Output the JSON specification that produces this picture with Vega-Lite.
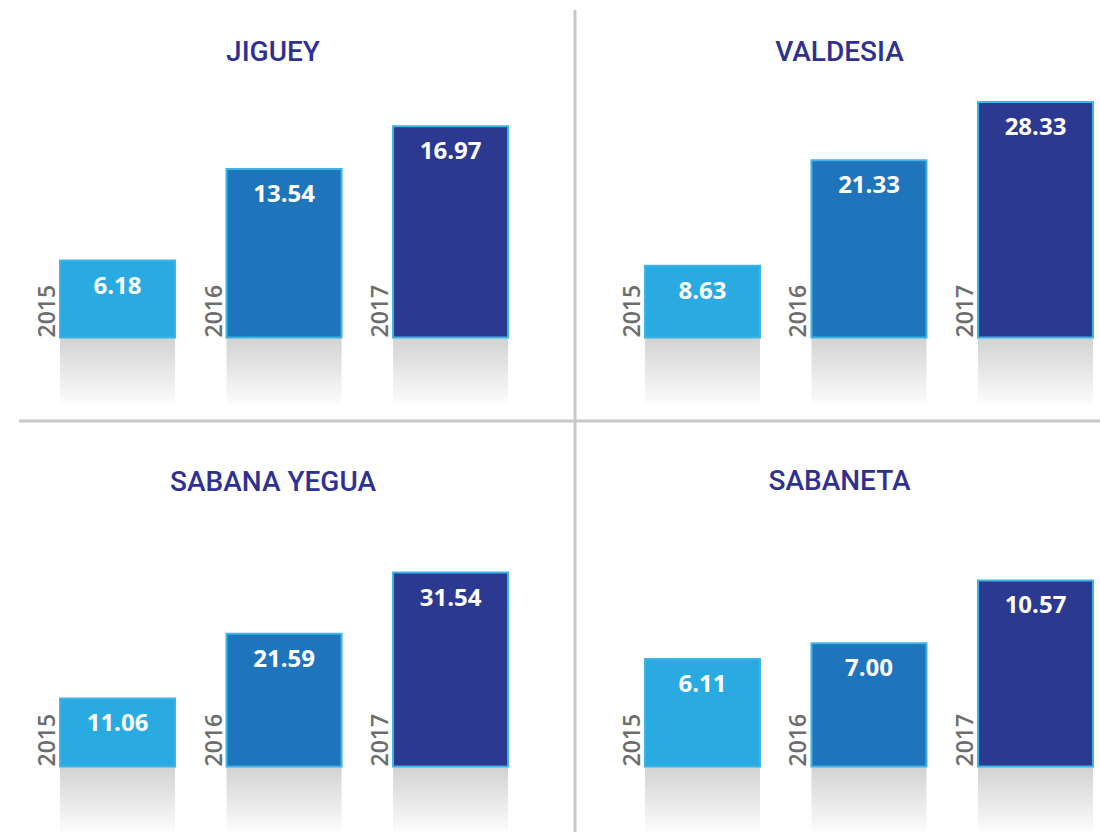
{
  "$schema": "https://vega.github.io/schema/vega-lite/v6.json",
  "background": "white",
  "padding": {"left": 17, "top": 0, "right": 0, "bottom": 0},
  "autosize": {"type": "pad"},
  "bounds": "flush",
  "spacing": 0,
  "columns": 2,
  "datasets": {
    "rows": [
      {"region": "JIGUEY", "year": "2015", "value": 6.18},
      {"region": "JIGUEY", "year": "2016", "value": 13.54},
      {"region": "JIGUEY", "year": "2017", "value": 16.97},
      {"region": "VALDESIA", "year": "2015", "value": 8.63},
      {"region": "VALDESIA", "year": "2016", "value": 21.33},
      {"region": "VALDESIA", "year": "2017", "value": 28.33},
      {"region": "SABANA YEGUA", "year": "2015", "value": 11.06},
      {"region": "SABANA YEGUA", "year": "2016", "value": 21.59},
      {"region": "SABANA YEGUA", "year": "2017", "value": 31.54},
      {"region": "SABANETA", "year": "2015", "value": 6.11},
      {"region": "SABANETA", "year": "2016", "value": 7.00},
      {"region": "SABANETA", "year": "2017", "value": 10.57}
    ],
    "one": [{"edge": "divider"}]
  },
  "config": {
    "view": {"stroke": null},
    "title": {"font": "Roboto", "fontSize": 28, "fontWeight": 500, "color": "#2e3192"}
  },
  "concat": [
    {
      "width": 556, "height": 430,
      "title": {"text": "JIGUEY", "offset": -89, "baseline": "alphabetic", "dx": -24, "frame": "group", "anchor": "middle"},
      "layer": [
        {
          "data": {"name": "rows"},
          "transform": [{"filter": "datum.region === 'JIGUEY'"}],
          "mark": {"type": "bar", "fill": {"gradient": "linear", "x1": 0, "y1": 0, "x2": 0, "y2": 1, "stops": [{"offset": 0, "color": "#d2d2d2"}, {"offset": 1, "color": "#fcfcfc"}]}},
          "encoding": {
            "x": {"field": "year", "type": "nominal", "axis": null, "scale": {"paddingInner": 0.3093, "paddingOuter": 0.3243, "align": 0.38}},
            "y": {"datum": 0, "type": "quantitative", "axis": null, "scale": {"domain": [-7.430, 27.108], "nice": false, "zero": false}},
            "y2": {"datum": -5.301}
          }
        },
        {
          "data": {"name": "rows"},
          "transform": [{"filter": "datum.region === 'JIGUEY'"}],
          "mark": {"type": "bar", "stroke": "#3db3e8", "strokeWidth": 2},
          "encoding": {
            "x": {"field": "year", "type": "nominal", "axis": null},
            "y": {"field": "value", "type": "quantitative", "axis": null},
            "color": {"field": "year", "type": "nominal", "legend": null, "scale": {"domain": ["2015", "2016", "2017"], "range": ["#29abe2", "#1f75bc", "#2b3990"]}}
          }
        },
        {
          "data": {"name": "rows"},
          "transform": [{"filter": "datum.region === 'JIGUEY'"}],
          "mark": {"type": "text", "baseline": "alphabetic", "dy": 33, "font": "Open Sans", "fontSize": 24, "fontWeight": "bold", "color": "white"},
          "encoding": {
            "x": {"field": "year", "type": "nominal", "axis": null},
            "y": {"field": "value", "type": "quantitative", "axis": null},
            "text": {"field": "value", "type": "quantitative", "format": ".2f"}
          }
        },
        {
          "data": {"name": "rows"},
          "transform": [{"filter": "datum.region === 'JIGUEY'"}],
          "mark": {"type": "text", "angle": 270, "align": "left", "baseline": "alphabetic", "dy": -5, "font": "Open Sans", "fontSize": 23, "fontWeight": 600, "color": "#6d6d6d"},
          "encoding": {
            "x": {"field": "year", "type": "nominal", "axis": null, "bandPosition": 0},
            "y": {"datum": 0, "type": "quantitative", "axis": null},
            "text": {"field": "year", "type": "nominal"}
          }
        },
        {
          "data": {"name": "one"},
          "mark": {"type": "rule", "color": "#c8c8c8", "strokeWidth": 3},
          "encoding": {"y": {"datum": -6.707, "type": "quantitative", "axis": null}}
        }
      ]
    },
    {
      "width": 527, "height": 430,
      "title": {"text": "VALDESIA", "offset": -89, "baseline": "alphabetic", "dx": 1, "frame": "group", "anchor": "middle"},
      "layer": [
        {
          "data": {"name": "rows"},
          "transform": [{"filter": "datum.region === 'VALDESIA'"}],
          "mark": {"type": "bar", "fill": {"gradient": "linear", "x1": 0, "y1": 0, "x2": 0, "y2": 1, "stops": [{"offset": 0, "color": "#d2d2d2"}, {"offset": 1, "color": "#fcfcfc"}]}},
          "encoding": {
            "x": {"field": "year", "type": "nominal", "axis": null, "scale": {"paddingInner": 0.3093, "paddingOuter": 0.2372, "align": 0.886}},
            "y": {"datum": 0, "type": "quantitative", "axis": null, "scale": {"domain": [-11.131, 40.614], "nice": false, "zero": false}},
            "y2": {"datum": -7.942}
          }
        },
        {
          "data": {"name": "rows"},
          "transform": [{"filter": "datum.region === 'VALDESIA'"}],
          "mark": {"type": "bar", "stroke": "#3db3e8", "strokeWidth": 2},
          "encoding": {
            "x": {"field": "year", "type": "nominal", "axis": null},
            "y": {"field": "value", "type": "quantitative", "axis": null},
            "color": {"field": "year", "type": "nominal", "legend": null, "scale": {"domain": ["2015", "2016", "2017"], "range": ["#29abe2", "#1f75bc", "#2b3990"]}}
          }
        },
        {
          "data": {"name": "rows"},
          "transform": [{"filter": "datum.region === 'VALDESIA'"}],
          "mark": {"type": "text", "baseline": "alphabetic", "dy": 33, "font": "Open Sans", "fontSize": 24, "fontWeight": "bold", "color": "white"},
          "encoding": {
            "x": {"field": "year", "type": "nominal", "axis": null},
            "y": {"field": "value", "type": "quantitative", "axis": null},
            "text": {"field": "value", "type": "quantitative", "format": ".2f"}
          }
        },
        {
          "data": {"name": "rows"},
          "transform": [{"filter": "datum.region === 'VALDESIA'"}],
          "mark": {"type": "text", "angle": 270, "align": "left", "baseline": "alphabetic", "dy": -5, "font": "Open Sans", "fontSize": 23, "fontWeight": 600, "color": "#6d6d6d"},
          "encoding": {
            "x": {"field": "year", "type": "nominal", "axis": null, "bandPosition": 0},
            "y": {"datum": 0, "type": "quantitative", "axis": null},
            "text": {"field": "year", "type": "nominal"}
          }
        },
        {
          "data": {"name": "one"},
          "mark": {"type": "rule", "color": "#c8c8c8", "strokeWidth": 3},
          "encoding": {"y": {"datum": -10.048, "type": "quantitative", "axis": null}}
        },
        {
          "data": {"name": "one"},
          "mark": {"type": "rule", "color": "#c8c8c8", "strokeWidth": 3},
          "encoding": {
            "x": {"value": 0},
            "y": {"datum": 39.41, "type": "quantitative", "axis": null},
            "y2": {"datum": -11.131}
          }
        }
      ]
    },
    {
      "width": 556, "height": 402,
      "title": {"text": "SABANA YEGUA", "offset": -89, "baseline": "alphabetic", "dx": -24, "frame": "group", "anchor": "middle"},
      "layer": [
        {
          "data": {"name": "rows"},
          "transform": [{"filter": "datum.region === 'SABANA YEGUA'"}],
          "mark": {"type": "bar", "fill": {"gradient": "linear", "x1": 0, "y1": 0, "x2": 0, "y2": 1, "stops": [{"offset": 0, "color": "#d2d2d2"}, {"offset": 1, "color": "#fcfcfc"}]}},
          "encoding": {
            "x": {"field": "year", "type": "nominal", "axis": null, "scale": {"paddingInner": 0.3093, "paddingOuter": 0.3243, "align": 0.38}},
            "y": {"datum": 0, "type": "quantitative", "axis": null, "scale": {"domain": [-10.650, 54.715], "nice": false, "zero": false}},
            "y2": {"datum": -10.650}
          }
        },
        {
          "data": {"name": "rows"},
          "transform": [{"filter": "datum.region === 'SABANA YEGUA'"}],
          "mark": {"type": "bar", "stroke": "#3db3e8", "strokeWidth": 2},
          "encoding": {
            "x": {"field": "year", "type": "nominal", "axis": null},
            "y": {"field": "value", "type": "quantitative", "axis": null},
            "color": {"field": "year", "type": "nominal", "legend": null, "scale": {"domain": ["2015", "2016", "2017"], "range": ["#29abe2", "#1f75bc", "#2b3990"]}}
          }
        },
        {
          "data": {"name": "rows"},
          "transform": [{"filter": "datum.region === 'SABANA YEGUA'"}],
          "mark": {"type": "text", "baseline": "alphabetic", "dy": 33, "font": "Open Sans", "fontSize": 24, "fontWeight": "bold", "color": "white"},
          "encoding": {
            "x": {"field": "year", "type": "nominal", "axis": null},
            "y": {"field": "value", "type": "quantitative", "axis": null},
            "text": {"field": "value", "type": "quantitative", "format": ".2f"}
          }
        },
        {
          "data": {"name": "rows"},
          "transform": [{"filter": "datum.region === 'SABANA YEGUA'"}],
          "mark": {"type": "text", "angle": 270, "align": "left", "baseline": "alphabetic", "dy": -5, "font": "Open Sans", "fontSize": 23, "fontWeight": 600, "color": "#6d6d6d"},
          "encoding": {
            "x": {"field": "year", "type": "nominal", "axis": null, "bandPosition": 0},
            "y": {"datum": 0, "type": "quantitative", "axis": null},
            "text": {"field": "year", "type": "nominal"}
          }
        }
      ]
    },
    {
      "width": 527, "height": 402,
      "title": {"text": "SABANETA", "offset": -89, "baseline": "alphabetic", "dx": 1, "frame": "group", "anchor": "middle"},
      "layer": [
        {
          "data": {"name": "rows"},
          "transform": [{"filter": "datum.region === 'SABANETA'"}],
          "mark": {"type": "bar", "fill": {"gradient": "linear", "x1": 0, "y1": 0, "x2": 0, "y2": 1, "stops": [{"offset": 0, "color": "#d2d2d2"}, {"offset": 1, "color": "#fcfcfc"}]}},
          "encoding": {
            "x": {"field": "year", "type": "nominal", "axis": null, "scale": {"paddingInner": 0.3093, "paddingOuter": 0.2372, "align": 0.886}},
            "y": {"datum": 0, "type": "quantitative", "axis": null, "scale": {"domain": [-3.722, 19.119], "nice": false, "zero": false}},
            "y2": {"datum": -3.722}
          }
        },
        {
          "data": {"name": "rows"},
          "transform": [{"filter": "datum.region === 'SABANETA'"}],
          "mark": {"type": "bar", "stroke": "#3db3e8", "strokeWidth": 2},
          "encoding": {
            "x": {"field": "year", "type": "nominal", "axis": null},
            "y": {"field": "value", "type": "quantitative", "axis": null},
            "color": {"field": "year", "type": "nominal", "legend": null, "scale": {"domain": ["2015", "2016", "2017"], "range": ["#29abe2", "#1f75bc", "#2b3990"]}}
          }
        },
        {
          "data": {"name": "rows"},
          "transform": [{"filter": "datum.region === 'SABANETA'"}],
          "mark": {"type": "text", "baseline": "alphabetic", "dy": 33, "font": "Open Sans", "fontSize": 24, "fontWeight": "bold", "color": "white"},
          "encoding": {
            "x": {"field": "year", "type": "nominal", "axis": null},
            "y": {"field": "value", "type": "quantitative", "axis": null},
            "text": {"field": "value", "type": "quantitative", "format": ".2f"}
          }
        },
        {
          "data": {"name": "rows"},
          "transform": [{"filter": "datum.region === 'SABANETA'"}],
          "mark": {"type": "text", "angle": 270, "align": "left", "baseline": "alphabetic", "dy": -5, "font": "Open Sans", "fontSize": 23, "fontWeight": 600, "color": "#6d6d6d"},
          "encoding": {
            "x": {"field": "year", "type": "nominal", "axis": null, "bandPosition": 0},
            "y": {"datum": 0, "type": "quantitative", "axis": null},
            "text": {"field": "year", "type": "nominal"}
          }
        },
        {
          "data": {"name": "one"},
          "mark": {"type": "rule", "color": "#c8c8c8", "strokeWidth": 3},
          "encoding": {
            "x": {"value": 0},
            "y": {"datum": 19.119, "type": "quantitative", "axis": null},
            "y2": {"datum": -3.722}
          }
        }
      ]
    }
  ]
}
